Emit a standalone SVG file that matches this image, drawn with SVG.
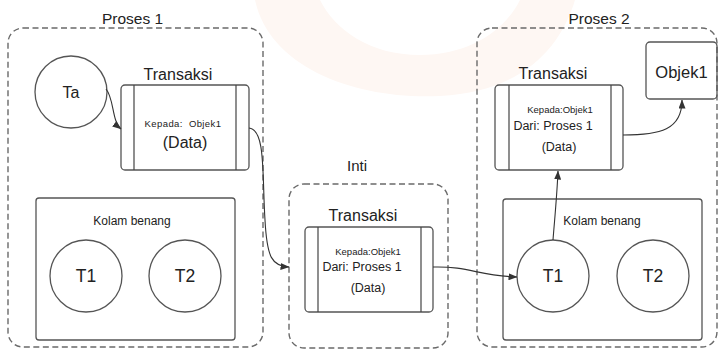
<svg xmlns="http://www.w3.org/2000/svg" width="723" height="353" viewBox="0 0 723 353">
<style>
.cont{fill:none;stroke:#6a6a6a;stroke-width:1.4;stroke-dasharray:6 3.5}
.box{fill:none;stroke:#555;stroke-width:1.3}
.ln{fill:none;stroke:#444;stroke-width:1.2}
.t{font-family:"Liberation Sans",Arial,sans-serif;fill:#222;text-anchor:middle}
.conn{fill:none;stroke:#333;stroke-width:1.1}
</style>
<defs>
<marker id="arr" markerWidth="9" markerHeight="7" refX="8.5" refY="3.5" orient="auto" markerUnits="userSpaceOnUse">
<path d="M0,0 L9,3.5 L0,7 z" fill="#333"/>
</marker>
</defs>
<rect width="723" height="353" fill="#fff"/>
<g id="watermark">
<path d="M255,0 C270,70 360,100 440,96 C520,92 560,50 575,0 L520,0 C505,30 470,55 420,55 C370,55 335,30 320,0 Z" fill="#fef7f3"/>
</g>
<g id="proses1">
<rect class="cont" x="8" y="28" width="255" height="319" rx="15"/>
<text class="t" x="132.5" y="24" font-size="15.5">Proses 1</text>
</g>
<g id="ta">
<circle class="box" cx="71" cy="92" r="36"/>
<text class="t" x="71" y="98" font-size="16">Ta</text>
</g>
<g id="transaksi1">
<text class="t" x="178" y="80" font-size="16">Transaksi</text>
<rect class="box" x="121" y="85" width="128" height="85" rx="4"/>
<line class="ln" x1="134" y1="85" x2="134" y2="170"/>
<line class="ln" x1="236" y1="85" x2="236" y2="170"/>
<text class="t" x="183" y="127" font-size="9.5" letter-spacing="0.4" xml:space="preserve">Kepada:  Objek1</text>
<text class="t" x="185" y="148" font-size="16">(Data)</text>
</g>
<g id="kolam1">
<rect class="box" x="36" y="198" width="199" height="142" rx="3"/>
<text class="t" x="132" y="225" font-size="12">Kolam benang</text>
</g>
<g id="t1a">
<circle class="box" cx="86" cy="276" r="36"/>
<text class="t" x="86" y="282" font-size="17.5">T1</text>
</g>
<g id="t2a">
<circle class="box" cx="185" cy="276" r="36"/>
<text class="t" x="185" y="282" font-size="17.5">T2</text>
</g>
<g id="inti">
<rect class="cont" x="289" y="184" width="159" height="164" rx="15"/>
<text class="t" x="357" y="171" font-size="15">Inti</text>
</g>
<g id="transaksi-inti">
<text class="t" x="363" y="221" font-size="16">Transaksi</text>
<rect class="box" x="305" y="227" width="128" height="85" rx="4"/>
<line class="ln" x1="318" y1="227" x2="318" y2="312"/>
<line class="ln" x1="421" y1="227" x2="421" y2="312"/>
<text class="t" x="368" y="255" font-size="9.5">Kepada:Objek1</text>
<text class="t" x="362" y="271" font-size="12.5">Dari: Proses 1</text>
<text class="t" x="368" y="292" font-size="12.5">(Data)</text>
</g>
<g id="proses2">
<rect class="cont" x="477" y="28" width="240" height="319" rx="15"/>
<text class="t" x="599" y="24" font-size="15.5">Proses 2</text>
</g>
<g id="transaksi2">
<text class="t" x="553" y="79" font-size="16">Transaksi</text>
<rect class="box" x="495" y="85" width="128" height="85" rx="4"/>
<line class="ln" x1="509" y1="85" x2="509" y2="170"/>
<line class="ln" x1="611" y1="85" x2="611" y2="170"/>
<text class="t" x="560" y="113" font-size="9.5">Kepada:Objek1</text>
<text class="t" x="553" y="130" font-size="12.5">Dari: Proses 1</text>
<text class="t" x="559" y="151" font-size="12.5">(Data)</text>
</g>
<g id="objek1">
<rect class="box" x="646" y="42" width="71" height="57" rx="4"/>
<text class="t" x="681.5" y="78" font-size="16.5">Objek1</text>
</g>
<g id="kolam2">
<rect class="box" x="503" y="199" width="199" height="141" rx="3"/>
<text class="t" x="602" y="225" font-size="12">Kolam benang</text>
</g>
<g id="t1b">
<circle class="box" cx="553" cy="276" r="36"/>
<text class="t" x="553" y="282" font-size="17.5">T1</text>
</g>
<g id="t2b">
<circle class="box" cx="653" cy="276" r="36"/>
<text class="t" x="653" y="282" font-size="17.5">T2</text>
</g>
<g id="connectors">
<path class="conn" d="M106,89 C114,98 112,122 121,129" marker-end="url(#arr)"/>
<path class="conn" d="M249,128 C266,130 262,175 265,220 C267,258 272,266 289,267" marker-end="url(#arr)"/>
<path class="conn" d="M433,267 C470,266 478,276 517,277" marker-end="url(#arr)"/>
<path class="conn" d="M553,240 C555,215 557,195 558,171" marker-end="url(#arr)"/>
<path class="conn" d="M623,135 C660,135 682,130 682,100" marker-end="url(#arr)"/>
</g>
</svg>
